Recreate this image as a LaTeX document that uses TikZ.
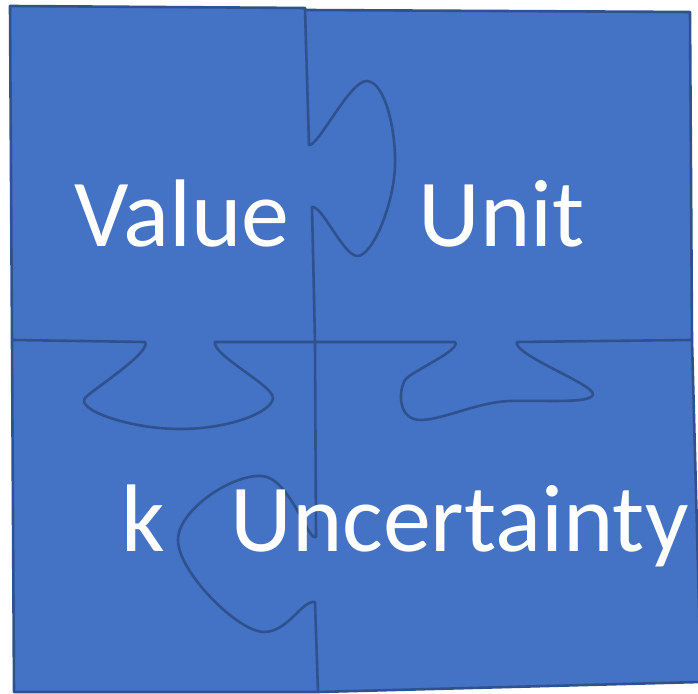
\documentclass[tikz,border=0pt]{standalone}
\usepackage{fontspec}
\setmainfont{Carlito}
\definecolor{piecefill}{HTML}{4472C4}
\definecolor{pieceline}{HTML}{2F528F}

\begin{document}
\begin{tikzpicture}
[x=0.5pt,y=-0.5pt,
piece/.style={fill=piecefill,draw=pieceline,line width=1.3pt,line join=round},
seam/.style={draw=pieceline,line width=1.3pt,line join=round},
word/.style={text=white,anchor=base west,inner sep=0pt,font=\fontsize{48}{52}\selectfont}]
\useasboundingbox (0,0) rectangle (698,694);
% corners and middles of the four pieces
\coordinate (tl) at (10,6); \coordinate (tm) at (305,9);
\coordinate (tr) at (690,12); \coordinate (rm) at (692,340);
\coordinate (br) at (701,682); \coordinate (bm) at (318,692);
\coordinate (bl) at (14,692); \coordinate (lm) at (12,340);
\coordinate (cm) at (315,342);
% outer border
\draw[piece] (tl) -- (305,8) -- (305,10) -- (tr) -- (rm) -- (br) -- (bm) -- (bl) -- (lm) -- cycle;
% seams with the knobs
\draw[seam] (tm) -- (309,145) .. controls (318,147) and (350,80) .. (367,81)
  .. controls (385,82) and (396,130) .. (395,165) .. controls (394,205) and (372,257) .. (357,256)
  .. controls (343,255) and (322,205) .. (312,207) -- (cm);
\draw[seam] (lm) -- (145,342) .. controls (152,352) and (92,390) .. (85,398)
  .. controls (76,410) and (130,429) .. (180,429) .. controls (230,429) and (272,412) .. (273,398)
  .. controls (274,386) and (212,355) .. (215,342) -- (cm);
\draw[seam] (cm) -- (455,342) .. controls (462,350) and (410,372) .. (405,380)
  .. controls (398,392) and (398,421) .. (422,420) .. controls (445,419) and (478,402) .. (510,401)
  .. controls (545,400) and (593,404) .. (593,394) .. controls (593,384) and (512,354) .. (517,342) -- (rm);
\draw[seam] (cm) -- (316,537) .. controls (308,542) and (290,478) .. (262,476)
  .. controls (232,474) and (178,510) .. (178,540) .. controls (178,572) and (238,632) .. (264,632)
  .. controls (288,632) and (302,600) .. (315,602) -- (bm);
% names on the pieces
\node[word] (value) at (74,247) {Value};
\node[word] (unit) at (418,247) {Unit};
\node[word] (k) at (121,552) {k};
\node[word] (uncertainty) at (230,552) {Uncertainty};
\end{tikzpicture}
\end{document}
